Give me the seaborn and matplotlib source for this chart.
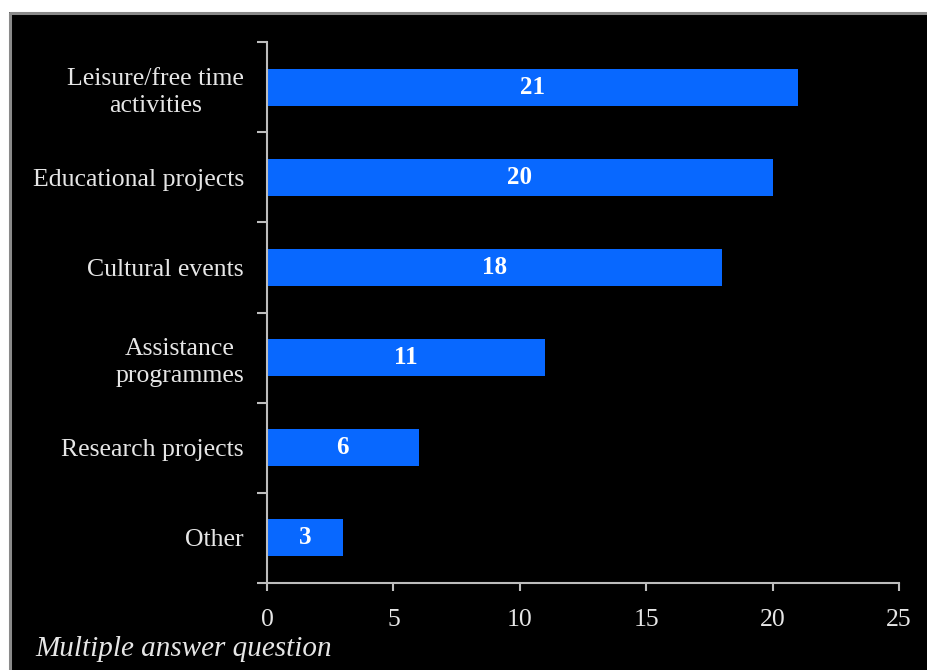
import matplotlib
matplotlib.use("Agg")
import matplotlib.pyplot as plt
from matplotlib.patches import Rectangle
from matplotlib.ticker import FixedLocator
import seaborn as sns
import pandas as pd

categories = [
    "Leisure/free time\nactivities",
    "Educational projects",
    "Cultural events",
    "Assistance\nprogrammes",
    "Research projects",
    "Other",
]
counts = [21, 20, 18, 11, 6, 3]
x_ticks = [0, 5, 10, 15, 20, 25]
footnote = "Multiple answer question"

df = pd.DataFrame({"category": categories, "count": counts})

sns.set_theme(style="dark")
plt.rcParams["font.family"] = ["Liberation Serif", "DejaVu Serif"]

fg = "#e6e6e6"
axis_col = "#bdbdbd"
bar_col = "#0868ff"

fig = plt.figure(figsize=(9.27, 6.70), dpi=100, facecolor="black")

# white page margin and grey frame around the black panel
W, H = 927, 670
fig.patches.append(Rectangle((0, 0), 9 / W, 1, transform=fig.transFigure,
                             facecolor="white", edgecolor="none", zorder=0))
fig.patches.append(Rectangle((0, 1 - 12 / H), 1, 12 / H, transform=fig.transFigure,
                             facecolor="white", edgecolor="none", zorder=0))
fig.add_artist(plt.Line2D([10 / W, 10 / W], [0, 1 - 13 / H], transform=fig.transFigure,
                          color="#8a8a8a", lw=2.2))
fig.add_artist(plt.Line2D([10 / W, 1], [1 - 13 / H, 1 - 13 / H], transform=fig.transFigure,
                          color="#8a8a8a", lw=2.2))

ax = fig.add_axes([267 / W, 1 - 583 / H, (899 - 267) / W, (583 - 42) / H])
ax.set_facecolor("black")

sns.barplot(data=df, x="count", y="category", orient="h", color=bar_col,
            width=0.41, saturation=1, linewidth=0, edgecolor="none", ax=ax)

ax.set_xlim(0, 25)
ax.set_ylim(len(categories) - 0.5, -0.5)
ax.set_xlabel("")
ax.set_ylabel("")
ax.grid(False)

ax.set_xticks(x_ticks)
ax.set_xticklabels([str(t) for t in x_ticks])

# category labels sit between boundary tick marks
ax.yaxis.set_minor_locator(FixedLocator([i - 0.5 for i in range(len(categories) + 1)]))
ax.tick_params(axis="y", which="major", length=0, pad=16.5, labelsize=18.5, labelcolor=fg)
ax.tick_params(axis="y", which="minor", length=7, width=1.5, color=axis_col, left=True)
ax.tick_params(axis="x", which="major", length=6, width=1.5, color=axis_col, bottom=True,
               pad=13, labelsize=18.5, labelcolor=fg)
for lbl in ax.get_yticklabels():
    lbl.set_multialignment("center")
    lbl.set_linespacing(1.3)

for side in ("top", "right"):
    ax.spines[side].set_visible(False)
for side in ("left", "bottom"):
    ax.spines[side].set_visible(True)
    ax.spines[side].set_color(axis_col)
    ax.spines[side].set_linewidth(1.5)

for container in ax.containers:
    ax.bar_label(container, labels=[str(v) for v in counts], label_type="center",
                 color="white", fontsize=18, fontweight="bold")

fig.text(35 / W, 1 - 649 / H, footnote, color=fg, fontsize=21, fontstyle="italic",
         ha="left", va="center")

fig.savefig("out.png", dpi=100, facecolor=fig.get_facecolor())
